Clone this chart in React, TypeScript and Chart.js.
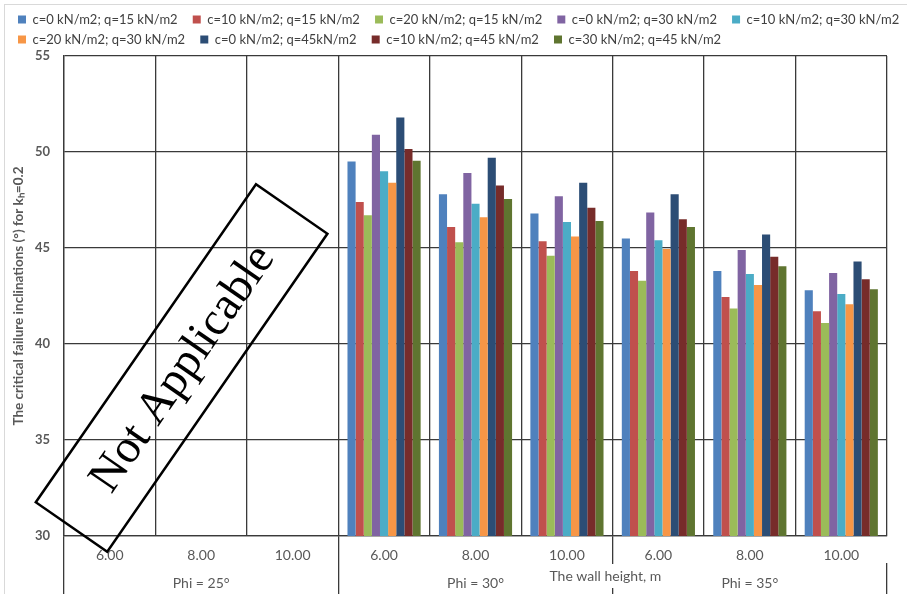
import React, { useEffect, useRef } from 'react';
import { Chart, registerables } from 'chart.js';

Chart.register(...registerables);

// ---------- data ----------
const wallHeights = ['6.00', '8.00', '10.00', '6.00', '8.00', '10.00', '6.00', '8.00', '10.00'];
const phiGroups = ['Phi = 25°', 'Phi = 30°', 'Phi = 35°'];

const seriesNames = [
  'c=0 kN/m2; q=15 kN/m2',
  'c=10 kN/m2; q=15 kN/m2',
  'c=20 kN/m2; q=15 kN/m2',
  'c=0 kN/m2; q=30 kN/m2',
  'c=10 kN/m2; q=30 kN/m2',
  'c=20 kN/m2; q=30 kN/m2',
  'c=0 kN/m2; q=45kN/m2',
  'c=10 kN/m2; q=45 kN/m2',
  'c=30 kN/m2; q=45 kN/m2',
];
const seriesColors = ['#4F81BD', '#C0504D', '#9BBB59', '#8064A2', '#4BACC6', '#F79646', '#2C4D75', '#772C2A', '#5F7530'];

const c0q15 = [null, null, null, 49.5, 47.8, 46.8, 45.5, 43.8, 42.8];
const c10q15 = [null, null, null, 47.4, 46.1, 45.35, 43.8, 42.45, 41.7];
const c20q15 = [null, null, null, 46.7, 45.3, 44.6, 43.3, 41.85, 41.1];
const c0q30 = [null, null, null, 50.9, 48.9, 47.7, 46.85, 44.9, 43.7];
const c10q30 = [null, null, null, 49.0, 47.3, 46.35, 45.4, 43.65, 42.6];
const c20q30 = [null, null, null, 48.4, 46.6, 45.6, 44.95, 43.07, 42.07];
const c0q45 = [null, null, null, 51.8, 49.7, 48.4, 47.8, 45.7, 44.3];
const c10q45 = [null, null, null, 50.15, 48.25, 47.1, 46.5, 44.55, 43.37];
const c30q45 = [null, null, null, 49.55, 47.55, 46.4, 46.1, 44.05, 42.85];

const seriesValues = [c0q15, c10q15, c20q15, c0q30, c10q30, c20q30, c0q45, c10q45, c30q45];

const yAxisTitle = 'The critical failure inclinations (°) for kₕ=0.2';
const xAxisTitle = 'The wall height, m';
const annotationText = 'Not Applicable';

const yMin = 30;
const yMax = 55;
const yStep = 5;

const AXIS = '#3a3a3a';
const LABEL = '#595959';
const FONT = 'Lato';

const decorPlugin = {
  id: 'decor',
  beforeDraw(chart: any) {
    const { ctx, width, height } = chart;
    ctx.save();
    ctx.strokeStyle = '#D9D9D9';
    ctx.lineWidth = 1;
    ctx.strokeRect(4.5, 4.5, width, height);
    ctx.restore();
  },
  afterDraw(chart: any) {
    const { ctx } = chart;
    const x = chart.scales.x;
    const y = chart.scales.y;
    const x2 = chart.scales.x2;
    const colW = x.getPixelForValue(1) - x.getPixelForValue(0);

    // x axis title (with white backing that interrupts the separator line)
    ctx.save();
    ctx.font = `14px ${FONT}`;
    const tw = ctx.measureText(xAxisTitle).width;
    const tx = x.getPixelForValue(5.42);
    const ty = x2.top + 13;
    ctx.fillStyle = '#ffffff';
    ctx.fillRect(tx - tw / 2 - 3, x2.top + 1, tw + 6, 24);
    ctx.fillStyle = LABEL;
    ctx.textAlign = 'center';
    ctx.textBaseline = 'middle';
    ctx.fillText(xAxisTitle, tx, ty);
    ctx.restore();

    // "Not Applicable" stamp
    const cx = x.getPixelForValue(0.786);
    const cy = y.getPixelForValue(38.75);
    const L = 4.23 * colW;
    const S = 0.95 * colW;
    ctx.save();
    ctx.translate(cx, cy);
    ctx.rotate((-55.3 * Math.PI) / 180);
    ctx.lineWidth = 2.5;
    ctx.strokeStyle = '#000';
    ctx.strokeRect(-L / 2, -S / 2, L, S);
    ctx.font = '47px "Liberation Serif"';
    ctx.fillStyle = '#000';
    ctx.textAlign = 'center';
    ctx.textBaseline = 'middle';
    ctx.fillText(annotationText, 0, 2);
    ctx.restore();
  },
};

export default function App() {
  const canvasRef = useRef<HTMLCanvasElement | null>(null);

  useEffect(() => {
    if (!canvasRef.current) return;
    const datasets = seriesNames.map((name, i) => ({
      label: name,
      data: seriesValues[i],
      backgroundColor: seriesColors[i],
      borderWidth: 0,
      categoryPercentage: 0.8,
      barPercentage: 1.0,
    }));

    const chart = new Chart(canvasRef.current, {
      type: 'bar',
      data: { labels: wallHeights, datasets },
      plugins: [decorPlugin],
      options: {
        animation: false,
        responsive: true,
        maintainAspectRatio: false,
        layout: { padding: { left: 11, right: -16, top: 6, bottom: 0 } },
        plugins: {
          legend: {
            display: true,
            position: 'top',
            align: 'start',
            labels: {
              boxWidth: 8,
              boxHeight: 8,
              padding: 7,
              color: '#404040',
              font: { family: FONT, size: 13 },
              generateLabels: (chart: any) => {
                const items = (Chart as any).defaults.plugins.legend.labels.generateLabels(chart);
                return items.map((it: any, i: number) => ({
                  ...it,
                  text: i === 4 || i === 8 ? it.text : it.text + '\u2002\u2009',
                }));
              },
            },
          },
          tooltip: { enabled: false },
        },
        scales: {
          x: {
            type: 'category',
            position: 'bottom',
            weight: 0,
            offset: true,
            grid: {
              offset: true,
              color: AXIS,
              lineWidth: 1.3,
              drawTicks: true,
              tickLength: 27,
              tickColor: (c: any) => (c.index % 3 === 0 ? AXIS : 'rgba(0,0,0,0)'),
            },
            border: { display: true, color: AXIS, width: 1.3 },
            ticks: { color: LABEL, font: { family: FONT, size: 14 }, padding: -16, maxRotation: 0, autoSkip: false },
            afterFit: (s: any) => { s.height = 27; },
          },
          x2: {
            type: 'category',
            position: 'bottom',
            weight: 1,
            labels: phiGroups,
            offset: true,
            grid: {
              offset: true,
              drawOnChartArea: false,
              drawTicks: true,
              tickLength: 31,
              color: AXIS,
              tickColor: AXIS,
              lineWidth: 1.3,
            },
            border: { display: false },
            ticks: { color: LABEL, font: { family: FONT, size: 14 }, padding: -19, maxRotation: 0, autoSkip: false },
            afterFit: (s: any) => { s.height = 31; },
          },
          y: {
            type: 'linear',
            position: 'left',
            min: yMin,
            max: yMax,
            ticks: { stepSize: yStep, color: LABEL, font: { family: FONT, size: 13, weight: 'bold' }, padding: 14 },
            grid: { color: AXIS, lineWidth: 1.3, drawTicks: false },
            border: { display: true, color: AXIS, width: 1.3 },
            title: {
              display: true,
              text: yAxisTitle,
              color: LABEL,
              font: { family: FONT, size: 13.5, weight: 'bold' },
              padding: { top: 0, bottom: 0 },
            },
            afterFit: (s: any) => { s.width = 53; },
          },
          yr: {
            type: 'linear',
            position: 'right',
            display: true,
            grid: { display: false },
            border: { display: false },
            ticks: { display: false },
            afterFit: (s: any) => { s.width = 36; },
          },
        },
      },
    } as any);

    return () => chart.destroy();
  }, []);

  return (
    <div style={{ position: 'fixed', left: 0, top: 0, width: 907, height: 594, background: '#fff' }}>
      <canvas ref={canvasRef} />
    </div>
  );
}
